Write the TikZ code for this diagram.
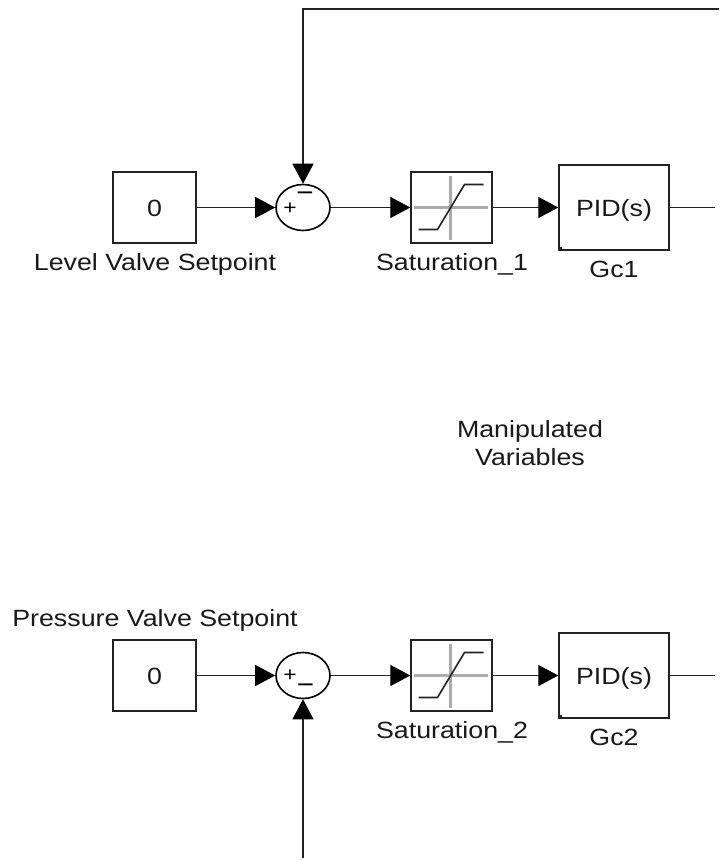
\documentclass[tikz,border=0pt]{standalone}
\usepackage{fontspec}
\setmainfont[FakeStretch=1.14]{Liberation Sans}
\usetikzlibrary{arrows.meta,shapes.geometric}
\definecolor{wire}{HTML}{222222}
\tikzset{
  x=1pt,y=-1pt,
  blockbox/.style={draw=wire,line width=1.4pt,rectangle,inner sep=0pt,font=\fontsize{23.5}{28}\selectfont,text=black!90,text height=17pt,text depth=0pt},
  constbox/.style={blockbox,minimum width=83pt,minimum height=71pt},
  satbox/.style={blockbox,minimum width=81pt,minimum height=71pt},
  pidbox/.style={blockbox,minimum width=110pt,minimum height=85pt},
  sumnode/.style={draw=black,line width=1.6pt,ellipse,inner sep=0pt,minimum width=54pt,minimum height=46pt},
  lbl/.style={font=\fontsize{23.5}{28}\selectfont,inner sep=0pt,align=center,text=black!90},
  sgn/.style={font=\fontsize{20}{20}\selectfont,inner sep=0pt,text=black},
  sgnm/.style={font=\fontsize{26}{26}\selectfont,inner sep=0pt,text=black},
  wireline/.style={draw=wire,line width=1.3pt},
  sig/.style={wireline,-{Triangle[length=20pt,width=21pt,color=black]}},
  satgrid/.style={draw=black!33,line width=2.4pt},
  satcurve/.style={draw=wire,line width=1.6pt}
}
\begin{document}
\begin{tikzpicture}
\useasboundingbox (0,0) rectangle (728,860);
\fill[white] (0,0) rectangle (728,860);
% top row
\node[constbox] (c1) at (154.5,207.5) {0};
\node[sumnode] (s1) at (303,207.5) {};
\node[satbox] (sat1) at (451.5,207.5) {};
\node[pidbox] (pid1) at (614,207.5) {PID(s)};
\coordinate (o1) at (715,207.5);
\coordinate (fbt) at (719,9);
\node[lbl,anchor=base] (l1) at (155,270.5) {Level Valve Setpoint};
\node[lbl,anchor=base] (l2) at (452,270.5) {Saturation\_1};
\node[lbl,anchor=base] (l3) at (614,277) {Gc1};
\node[sgn] (p1) at (290,209) {+};
\node[sgnm] (m1) at (305,197) {−};
% middle
\node[lbl] (mv) at (530,443.5) {Manipulated\\Variables};
% bottom row
\node[constbox] (c2) at (154.5,675.5) {0};
\node[sumnode] (s2) at (303,675.5) {};
\node[satbox] (sat2) at (451.5,675.5) {};
\node[pidbox] (pid2) at (614,675.5) {PID(s)};
\coordinate (o2) at (715,675.5);
\coordinate (fbb) at (303,858);
\node[lbl,anchor=base] (l4) at (155,626.5) {Pressure Valve Setpoint};
\node[lbl,anchor=base] (l5) at (452,738) {Saturation\_2};
\node[lbl,anchor=base] (l6) at (614,745.5) {Gc2};
\node[sgn] (p2) at (290,676) {+};
\node[sgnm] (m2) at (305.5,689) {−};
% connectors
\draw[sig] (c1) -- (s1);
\draw[sig] (s1) -- (sat1);
\draw[sig] (sat1) -- (pid1);
\draw[wireline] (pid1) -- (o1);
\draw[sig] (fbt) -| (s1.north);
\draw[sig] (c2) -- (s2);
\draw[sig] (s2) -- (sat2);
\draw[sig] (sat2) -- (pid2);
\draw[wireline] (pid2) -- (o2);
\draw[sig] (fbb) -- (s2.south);
% saturation icons
\foreach \n in {sat1,sat2}{
  \draw[satgrid] ([xshift=-38pt]\n.center) -- ([xshift=36pt]\n.center);
  \draw[satgrid] ([xshift=-1pt,yshift=32pt]\n.center) -- ([xshift=-1pt,yshift=-32pt]\n.center);
  \draw[satcurve] ([xshift=-33pt,yshift=-22pt]\n.center) -- ([xshift=-14pt,yshift=-22pt]\n.center) -- ([xshift=13pt,yshift=23pt]\n.center) -- ([xshift=32pt,yshift=23pt]\n.center);
}
% PID corner marks
\foreach \n in {pid1,pid2}{
  \fill[wire] (\n.south west) rectangle ([xshift=4pt,yshift=4pt]\n.south west);
}
\end{tikzpicture}
\end{document}
